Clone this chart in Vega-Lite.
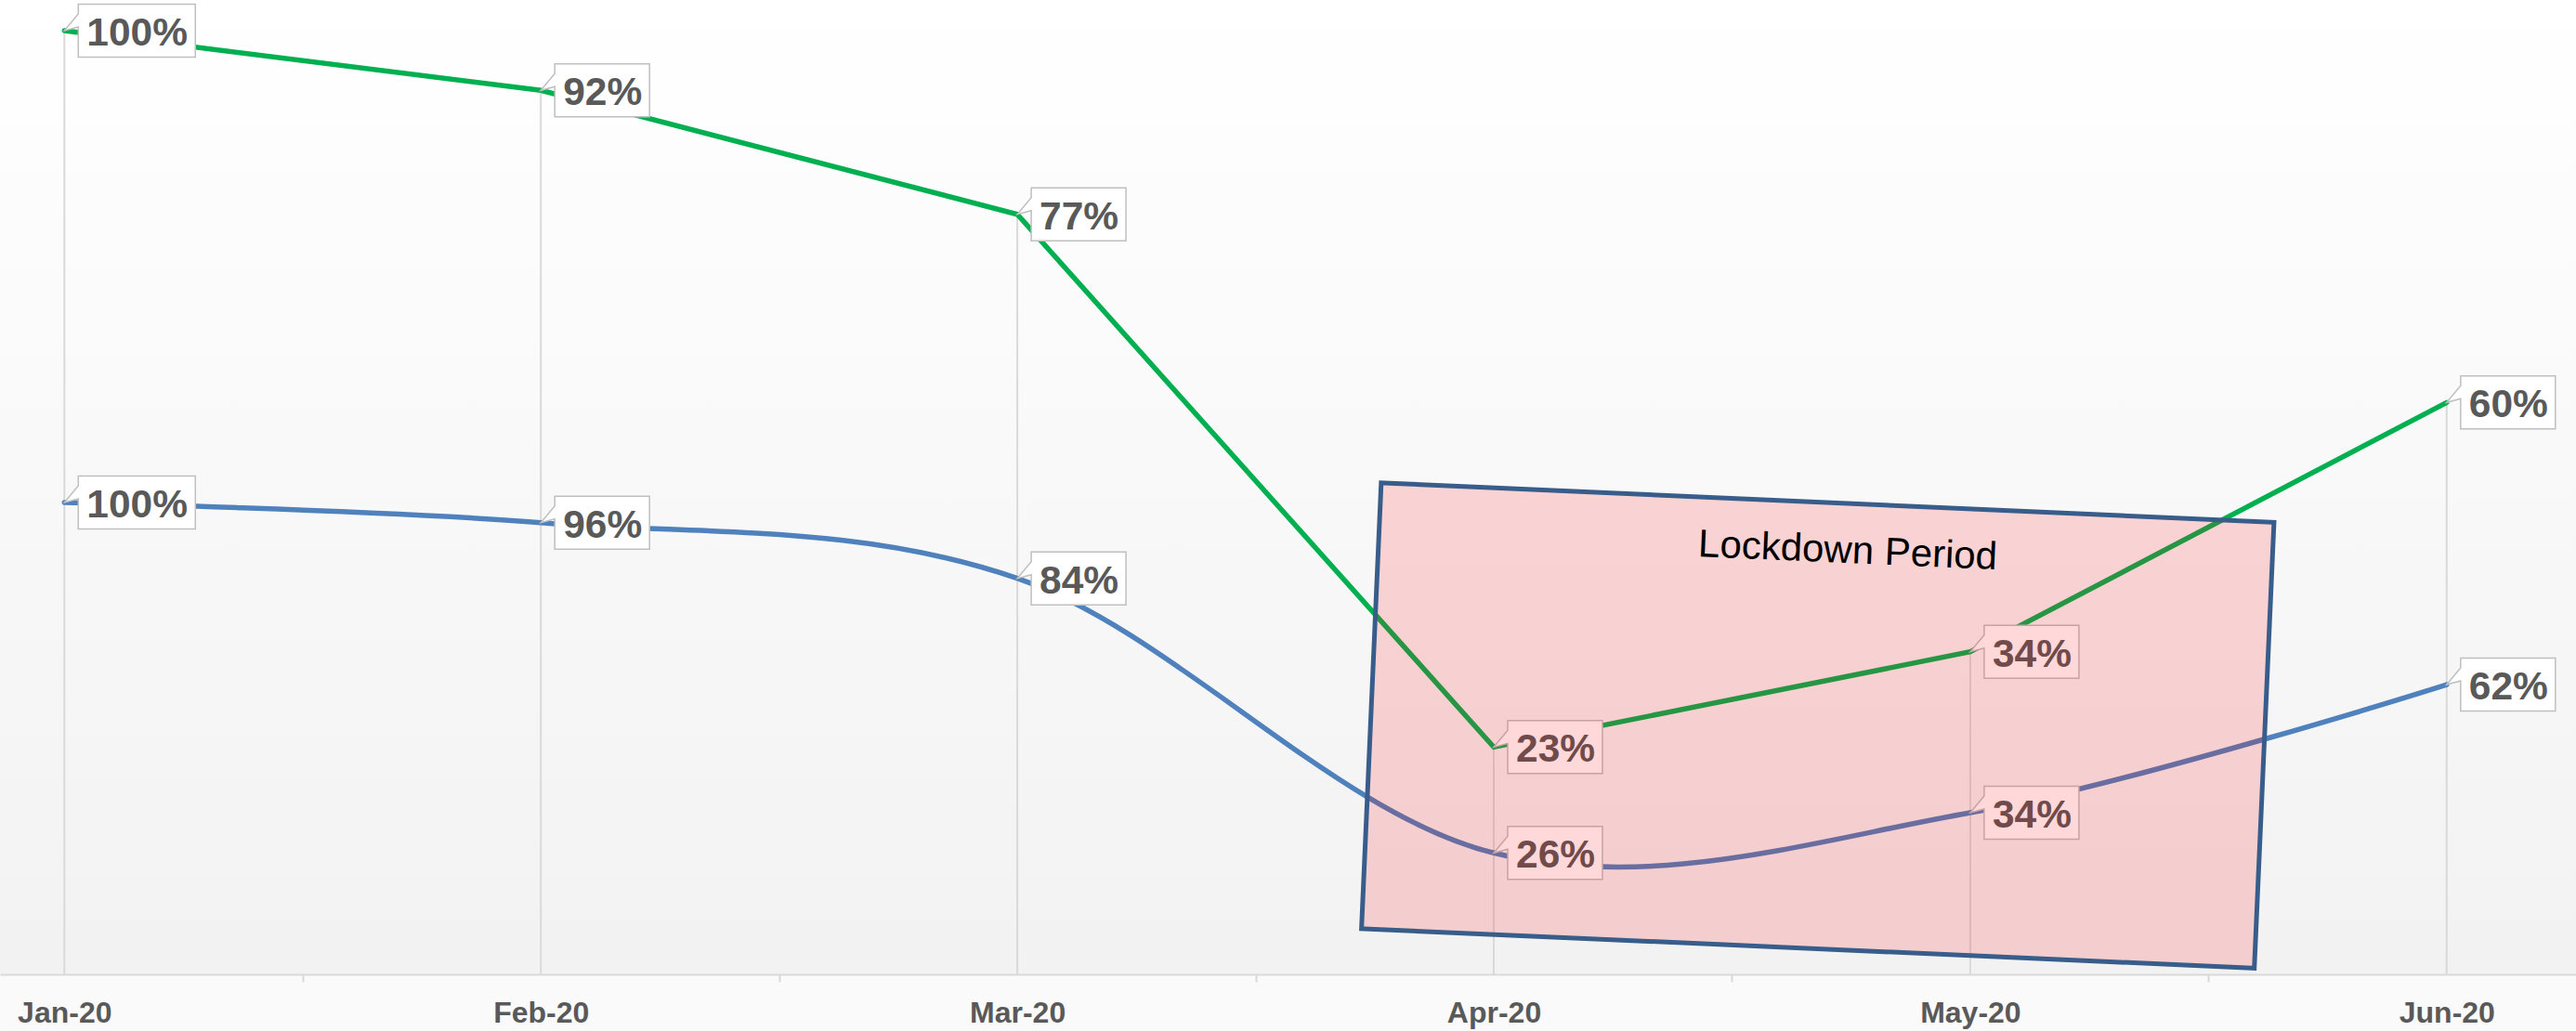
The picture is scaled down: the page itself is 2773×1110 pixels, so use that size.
{
  "$schema": "https://vega.github.io/schema/vega-lite/v6.json",
  "width": 2773,
  "height": 1049,
  "autosize": {"type": "none"},
  "padding": {"left": 0, "top": 0, "right": 0, "bottom": 61},
  "background": "#fafafa",
  "config": {
    "view": {
      "stroke": null,
      "fill": {"gradient": "linear", "x1": 0, "y1": 0, "x2": 0, "y2": 1,
        "stops": [{"offset": 0, "color": "#ffffff"}, {"offset": 1, "color": "#f2f2f2"}]}
    }
  },
  "datasets": {
    "lines": [
      {"month": "Jan-20", "m": 0, "series": "Series 1", "value": 100, "label": "100%"},
      {"month": "Feb-20", "m": 1, "series": "Series 1", "value": 93.67, "label": "92%"},
      {"month": "Mar-20", "m": 2, "series": "Series 1", "value": 80.54, "label": "77%"},
      {"month": "Apr-20", "m": 3, "series": "Series 1", "value": 24.08, "label": "23%"},
      {"month": "May-20", "m": 4, "series": "Series 1", "value": 34.18, "label": "34%"},
      {"month": "Jun-20", "m": 5, "series": "Series 1", "value": 60.6, "label": "60%"},
      {"month": "Jan-20", "m": 0, "series": "Series 2", "value": 100, "label": "100%"},
      {"month": "Feb-20", "m": 1, "series": "Series 2", "value": 95.73, "label": "96%"},
      {"month": "Mar-20", "m": 2, "series": "Series 2", "value": 83.92, "label": "84%"},
      {"month": "Apr-20", "m": 3, "series": "Series 2", "value": 25.73, "label": "26%"},
      {"month": "May-20", "m": 4, "series": "Series 2", "value": 34.25, "label": "34%"},
      {"month": "Jun-20", "m": 5, "series": "Series 2", "value": 61.4, "label": "62%"}
    ]
  },
  "resolve": {"scale": {"y": "independent"}},
  "layer": [
    {
      "data": {"name": "lines"},
      "transform": [{"filter": "datum.series === 'Series 1'"}],
      "mark": {"type": "rule", "color": "#d9d9d9", "strokeWidth": 2},
      "encoding": {
        "x": {
          "field": "m", "type": "quantitative",
          "scale": {"domain": [-0.1351, 5.2714], "nice": false, "zero": false},
          "axis": {
            "title": null,
            "values": [0, 0.5, 1, 1.5, 2, 2.5, 3, 3.5, 4, 4.5, 5],
            "labelExpr": "datum.value % 1 === 0 ? ['Jan-20','Feb-20','Mar-20','Apr-20','May-20','Jun-20'][datum.value] : ''",
            "tickOpacity": {"condition": {"test": "datum.value % 1 === 0", "value": 0}, "value": 1},
            "grid": false,
            "domainColor": "#d9d9d9", "domainWidth": 2,
            "tickColor": "#d9d9d9", "tickWidth": 2, "tickSize": 8,
            "labelFont": "Liberation Sans", "labelFontWeight": "bold", "labelFontSize": 32,
            "labelColor": "#595959", "labelPadding": 33, "labelBaseline": "middle",
            "labelFlush": false, "labelOverlap": false
          }
        },
        "y": {"field": "value", "type": "quantitative", "scale": {"domain": [0, 103.25], "nice": false}, "axis": null},
        "y2": {"datum": 0}
      }
    },
    {
      "data": {"name": "lines"},
      "transform": [{"filter": "datum.series === 'Series 1'"}],
      "mark": {"type": "line", "color": "#00b050", "strokeWidth": 5.5, "strokeCap": "round", "interpolate": "linear"},
      "encoding": {
        "x": {"field": "m", "type": "quantitative"},
        "y": {"field": "value", "type": "quantitative", "scale": {"domain": [0, 103.25], "nice": false}, "axis": null}
      }
    },
    {
      "data": {"name": "lines"},
      "transform": [{"filter": "datum.series === 'Series 2'"}],
      "mark": {"type": "line", "color": "#4f81bd", "strokeWidth": 5.5, "strokeCap": "round", "interpolate": "cardinal"},
      "encoding": {
        "x": {"field": "m", "type": "quantitative"},
        "y": {"field": "value", "type": "quantitative", "scale": {"domain": [0, 206.5], "nice": false}, "axis": null}
      }
    },
    {
      "data": {"name": "lines"},
      "transform": [{"filter": "datum.series === 'Series 1'"}],
      "mark": {"type": "point", "size": 4, "filled": true, "fill": "#ffffff", "stroke": "#bfbfbf", "strokeWidth": 1.5, "opacity": 1},
      "encoding": {
        "x": {"field": "m", "type": "quantitative"},
        "y": {"field": "value", "type": "quantitative", "scale": {"domain": [0, 103.25], "nice": false}, "axis": null},
        "shape": {
          "condition": {"test": "length(datum.label) > 3", "value": "M0,0 L15,-18 L15,-28.5 L141,-28.5 L141,28.5 L15,28.5 L15,-4 Z"},
          "value": "M0,0 L15,-18 L15,-28.5 L117,-28.5 L117,28.5 L15,28.5 L15,-4 Z"
        }
      }
    },
    {
      "data": {"name": "lines"},
      "transform": [{"filter": "datum.series === 'Series 1'"}],
      "mark": {"type": "text", "align": "left", "baseline": "alphabetic", "dx": 24, "dy": 16, "font": "Liberation Sans", "fontWeight": "bold", "fontSize": 42.5, "fill": "#595959"},
      "encoding": {
        "x": {"field": "m", "type": "quantitative"},
        "y": {"field": "value", "type": "quantitative", "scale": {"domain": [0, 103.25], "nice": false}, "axis": null},
        "text": {"field": "label"}
      }
    },
    {
      "data": {"name": "lines"},
      "transform": [{"filter": "datum.series === 'Series 2'"}],
      "mark": {"type": "point", "size": 4, "filled": true, "fill": "#ffffff", "stroke": "#bfbfbf", "strokeWidth": 1.5, "opacity": 1},
      "encoding": {
        "x": {"field": "m", "type": "quantitative"},
        "y": {"field": "value", "type": "quantitative", "scale": {"domain": [0, 206.5], "nice": false}, "axis": null},
        "shape": {
          "condition": {"test": "length(datum.label) > 3", "value": "M0,0 L15,-18 L15,-28.5 L141,-28.5 L141,28.5 L15,28.5 L15,-4 Z"},
          "value": "M0,0 L15,-18 L15,-28.5 L117,-28.5 L117,28.5 L15,28.5 L15,-4 Z"
        }
      }
    },
    {
      "data": {"name": "lines"},
      "transform": [{"filter": "datum.series === 'Series 2'"}],
      "mark": {"type": "text", "align": "left", "baseline": "alphabetic", "dx": 24, "dy": 16, "font": "Liberation Sans", "fontWeight": "bold", "fontSize": 42.5, "fill": "#595959"},
      "encoding": {
        "x": {"field": "m", "type": "quantitative"},
        "y": {"field": "value", "type": "quantitative", "scale": {"domain": [0, 206.5], "nice": false}, "axis": null},
        "text": {"field": "label"}
      }
    },
    {
      "data": {"values": [{"note": "Lockdown Period"}]},
      "mark": {"type": "point", "size": 4, "filled": true, "fill": "#ff0000", "fillOpacity": 0.15, "stroke": "#385d8a", "strokeOpacity": 1, "strokeWidth": 5, "opacity": 1, "angle": 2.53,
        "shape": "M-481,-240.2 L481,-240.2 L481,240.2 L-481,240.2 Z"},
      "encoding": {
        "x": {"datum": 3.68},
        "y": {"datum": 26.37, "scale": {"domain": [0, 103.25], "nice": false}, "axis": null}
      }
    },
    {
      "data": {"values": [{"note": "Lockdown Period"}]},
      "mark": {"type": "text", "align": "center", "baseline": "middle", "angle": 2.53, "font": "Liberation Sans", "fontSize": 42, "fill": "#000000"},
      "encoding": {
        "x": {"datum": 3.743},
        "y": {"datum": 44.88, "scale": {"domain": [0, 103.25], "nice": false}, "axis": null},
        "text": {"field": "note"}
      }
    }
  ]
}
